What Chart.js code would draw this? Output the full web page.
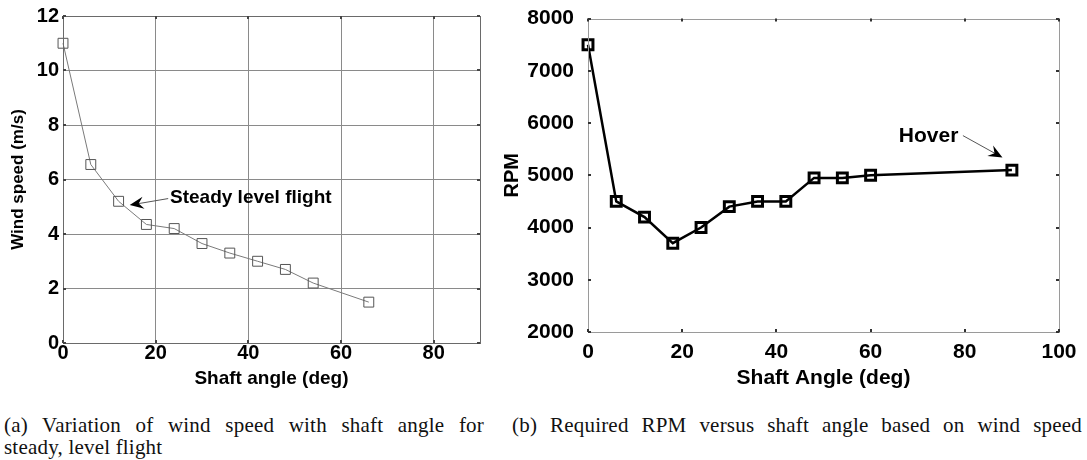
<!DOCTYPE html>
<html>
<head>
<meta charset="utf-8">
<script src="https://cdn.jsdelivr.net/npm/chart.js@4.4.1/dist/chart.umd.min.js"></script>
<style>
  body { margin: 0; background: #fff; width: 1087px; height: 460px; position: relative; overflow: hidden; }
  canvas { position: absolute; top: 0; }
  #windChart { left: 0; }
  #rpmChart { left: 500px; }
  .cap { position: absolute; font-family: "Liberation Serif", serif; font-size: 21px; color: #111;
         letter-spacing: 0.2px; text-align: justify; text-align-last: justify; white-space: nowrap; line-height: 22px; }
</style>
</head>
<body>
<canvas id="windChart" width="500" height="400"></canvas>
<canvas id="rpmChart" width="587" height="400"></canvas>
<div class="cap" style="left:4px; top:414px; width:480px;">(a) Variation of wind speed with shaft angle for</div>
<div class="cap" style="left:4px; top:436px; text-align-last:left;">steady, level flight</div>
<div class="cap" style="left:512px; top:414px; width:570px;">(b) Required RPM versus shaft angle based on wind speed</div>
<script>
// left panel: wind speed vs shaft angle
const windAngle = [0, 6, 12, 18, 24, 30, 36, 42, 48, 54, 66]
const windSpeed = [11, 6.55, 5.2, 4.35, 4.2, 3.65, 3.3, 3.0, 2.7, 2.2, 1.5]
const windTicksX = [0, 20, 40, 60, 80]
const windTicksY = [0, 2, 4, 6, 8, 10, 12]

// right panel: RPM vs shaft angle
const rpmAngle = [0, 6, 12, 18, 24, 30, 36, 42, 48, 54, 60, 90]
const rpmValues = [7500, 4500, 4200, 3700, 4000, 4400, 4500, 4500, 4950, 4950, 5000, 5100]
const rpmTicksX = [0, 20, 40, 60, 80, 100]
const rpmTicksY = [2000, 3000, 4000, 5000, 6000, 7000, 8000]

const sans = '"Liberation Sans", Arial, sans-serif'
Chart.defaults.font.family = sans
Chart.defaults.font.weight = 'bold'
Chart.defaults.color = '#000'

const pairs = (xs, ys) => xs.map((x, i) => ({ x: x, y: ys[i] }))
const fixTicks = list => scale => { scale.ticks = list.map(v => ({ value: v })) }
const plain = v => String(v)
const boldFont = size => ({ family: sans, size: size, weight: 'bold' })

// box round the plot with short inward tick marks on all four sides
const frame = {
  id: 'frame',
  afterDatasetsDraw(chart, args, opts) {
    const { ctx, chartArea: a, scales } = chart
    const len = opts.len
    ctx.save()
    ctx.strokeStyle = opts.color
    ctx.lineWidth = 1
    ctx.strokeRect(Math.round(a.left) + 0.5, Math.round(a.top) + 0.5,
      Math.round(a.right - a.left), Math.round(a.bottom - a.top))
    ctx.strokeStyle = opts.tickColor
    ctx.lineWidth = 2
    ctx.beginPath()
    scales.x.ticks.forEach(t => {
      const px = Math.round(scales.x.getPixelForValue(t.value))
      ctx.moveTo(px, a.bottom); ctx.lineTo(px, a.bottom - len)
      ctx.moveTo(px, a.top); ctx.lineTo(px, a.top + len)
    })
    scales.y.ticks.forEach(t => {
      const py = Math.round(scales.y.getPixelForValue(t.value))
      ctx.moveTo(a.left, py); ctx.lineTo(a.left + len, py)
      ctx.moveTo(a.right, py); ctx.lineTo(a.right - len, py)
    })
    ctx.stroke()
    ctx.restore()
  }
}

// text labels with arrows, placed in data coordinates
const notes = {
  id: 'notes',
  afterDraw(chart, args, opts) {
    const { ctx, scales: { x, y } } = chart
    ctx.save()
    opts.items.forEach(n => {
      ctx.font = n.font
      ctx.fillStyle = '#000'
      ctx.textBaseline = 'middle'
      ctx.textAlign = 'left'
      ctx.fillText(n.text, x.getPixelForValue(n.x), y.getPixelForValue(n.y))
      const x0 = x.getPixelForValue(n.from[0]), y0 = y.getPixelForValue(n.from[1])
      const x1 = x.getPixelForValue(n.to[0]), y1 = y.getPixelForValue(n.to[1])
      const ang = Math.atan2(y1 - y0, x1 - x0)
      ctx.strokeStyle = '#555'
      ctx.lineWidth = 1
      ctx.beginPath()
      ctx.moveTo(x0, y0)
      ctx.lineTo(x1 - 8 * Math.cos(ang), y1 - 8 * Math.sin(ang))
      ctx.stroke()
      const L = 14, W = 6
      const bx = x1 - L * Math.cos(ang), by = y1 - L * Math.sin(ang)
      const nx = x1 - 0.65 * L * Math.cos(ang), ny = y1 - 0.65 * L * Math.sin(ang)
      ctx.fillStyle = '#000'
      ctx.beginPath()
      ctx.moveTo(x1, y1)
      ctx.lineTo(bx + W * Math.sin(ang), by - W * Math.cos(ang))
      ctx.lineTo(nx, ny)
      ctx.lineTo(bx - W * Math.sin(ang), by + W * Math.cos(ang))
      ctx.closePath()
      ctx.fill()
    })
    ctx.restore()
  }
}

new Chart(document.getElementById('windChart').getContext('2d'), {
  type: 'scatter',
  data: {
    datasets: [{
      data: pairs(windAngle, windSpeed),
      showLine: true,
      borderColor: '#7a7a7a',
      borderWidth: 1,
      pointStyle: 'rect',
      pointRadius: 7,
      pointBorderWidth: 1,
      pointBorderColor: '#555',
      pointBackgroundColor: 'rgba(0,0,0,0)',
      clip: false
    }]
  },
  options: {
    responsive: false,
    animation: false,
    layout: { padding: { top: 14, right: 20, left: 0, bottom: 0 } },
    plugins: {
      legend: { display: false },
      tooltip: { enabled: false },
      frame: { color: '#6a6a6a', tickColor: '#444', len: 3 },
      notes: {
        items: [{
          text: 'Steady level flight', font: 'bold 19px ' + sans,
          x: 23.1, y: 5.34, from: [22.7, 5.3], to: [14.4, 5.06]
        }]
      }
    },
    scales: {
      x: {
        type: 'linear', min: 0, max: 90,
        afterBuildTicks: fixTicks(windTicksX),
        afterFit: s => { s.height = 57 },
        grid: { color: '#8a8a8a', lineWidth: 1, drawTicks: false },
        border: { display: false },
        ticks: { color: '#000', padding: -2, callback: plain, font: boldFont(20) },
        title: { display: true, text: 'Shaft angle (deg)', color: '#000',
                 padding: { bottom: 10 }, font: boldFont(19) }
      },
      y: {
        type: 'linear', min: 0, max: 12,
        afterBuildTicks: fixTicks(windTicksY),
        afterFit: s => { s.width = 63 },
        grid: { color: '#8a8a8a', lineWidth: 1, drawTicks: false },
        border: { display: false },
        ticks: { color: '#000', padding: 4, callback: plain, font: boldFont(20) },
        title: { display: true, text: 'Wind speed (m/s)', color: '#000',
                 padding: { top: 8 }, font: boldFont(17) }
      }
    }
  },
  plugins: [frame, notes]
})

new Chart(document.getElementById('rpmChart').getContext('2d'), {
  type: 'scatter',
  data: {
    datasets: [{
      data: pairs(rpmAngle, rpmValues),
      showLine: true,
      borderColor: '#000',
      borderWidth: 2.5,
      pointStyle: 'rect',
      pointRadius: 7,
      pointBorderWidth: 3,
      pointBorderColor: '#000',
      pointBackgroundColor: 'rgba(0,0,0,0)',
      clip: false
    }]
  },
  options: {
    responsive: false,
    animation: false,
    layout: { padding: { top: 16, right: 28, left: 0, bottom: 0 } },
    plugins: {
      legend: { display: false },
      tooltip: { enabled: false },
      frame: { color: '#9a9a9a', tickColor: '#333', len: 3 },
      notes: {
        items: [{
          text: 'Hover', font: 'bold 21px ' + sans,
          x: 66, y: 5740, from: [79.6, 5760], to: [88, 5340]
        }]
      }
    },
    scales: {
      x: {
        type: 'linear', min: 0, max: 100,
        afterBuildTicks: fixTicks(rpmTicksX),
        afterFit: s => { s.height = 68 },
        grid: { display: false },
        border: { display: false },
        ticks: { color: '#000', padding: 0, callback: plain, font: boldFont(21) },
        title: { display: true, text: 'Shaft Angle (deg)', color: '#000',
                 padding: { bottom: 9 }, font: boldFont(21) }
      },
      y: {
        type: 'linear', min: 2000, max: 8000,
        afterBuildTicks: fixTicks(rpmTicksY),
        afterFit: s => { s.width = 88 },
        grid: { display: false },
        border: { display: false },
        ticks: { color: '#000', padding: 6, callback: plain, font: boldFont(21) },
        title: { display: true, text: 'RPM', color: '#000',
                 padding: { top: 0 }, font: boldFont(20) }
      }
    }
  },
  plugins: [frame, notes]
})
</script>
</body>
</html>
